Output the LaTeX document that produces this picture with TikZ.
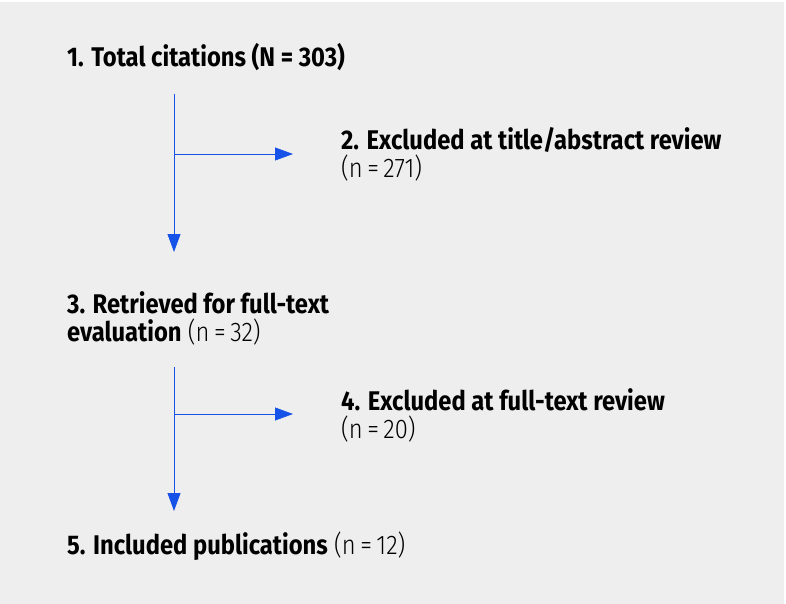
\documentclass[tikz,border=0pt]{standalone}
\usepackage{fontspec}
\setmainfont[FakeStretch=0.88]{Fira Sans}
\newfontfamily\lightfont[FakeStretch=0.88]{Fira Sans Light}
\usetikzlibrary{arrows.meta, positioning}
\definecolor{flowblue}{RGB}{22,82,232}
\definecolor{panelgray}{RGB}{238,238,238}

\begin{document}
\begin{tikzpicture}[x=1pt, y=-1pt,
    stage/.style={anchor=base west, inner sep=0pt, align=left,
                  font=\fontsize{27}{28}\selectfont},
    flow/.style={flowblue, line width=0.8pt, -{Triangle[length=18pt, width=13pt]}}]
    % Panel
    \useasboundingbox (0,0) rectangle (786,604);
    \fill[white] (0,0) rectangle (786,604);
    \fill[panelgray] (0,2) rectangle (784,604);

    % Stages (base = last line)
    \node[stage] (total) at (67,67) {\textbf{1. Total citations (N = 303)}};
    \node[stage] (titleout) at (341,177) {\textbf{2. Excluded at title/abstract review}\\{\lightfont (n\,=\,271)}};
    \node[stage] (fulltext) at (67,341) {\textbf{3. Retrieved for full-text}\\\textbf{evaluation} {\lightfont (n\,=\,32)}};
    \node[stage] (textout) at (341,438) {\textbf{4. Excluded at full-text review}\\{\lightfont (n\,=\,20)}};
    \node[stage] (included) at (67,554) {\textbf{5. Included publications} {\lightfont (n\,=\,12)}};

    % Flow arrows
    \coordinate (top1) at (174,94);
    \coordinate (end1) at (174,252);
    \coordinate (fork1) at (174,154);
    \coordinate (side1) at (293,154);
    \coordinate (top2) at (174,367);
    \coordinate (end2) at (174,511);
    \coordinate (fork2) at (174,414);
    \coordinate (side2) at (293,414);

    \draw[flow] (top1) -- (end1);
    \draw[flow] (fork1) -- (side1);
    \draw[flow] (top2) -- (end2);
    \draw[flow] (fork2) -- (side2);
\end{tikzpicture}
\end{document}
